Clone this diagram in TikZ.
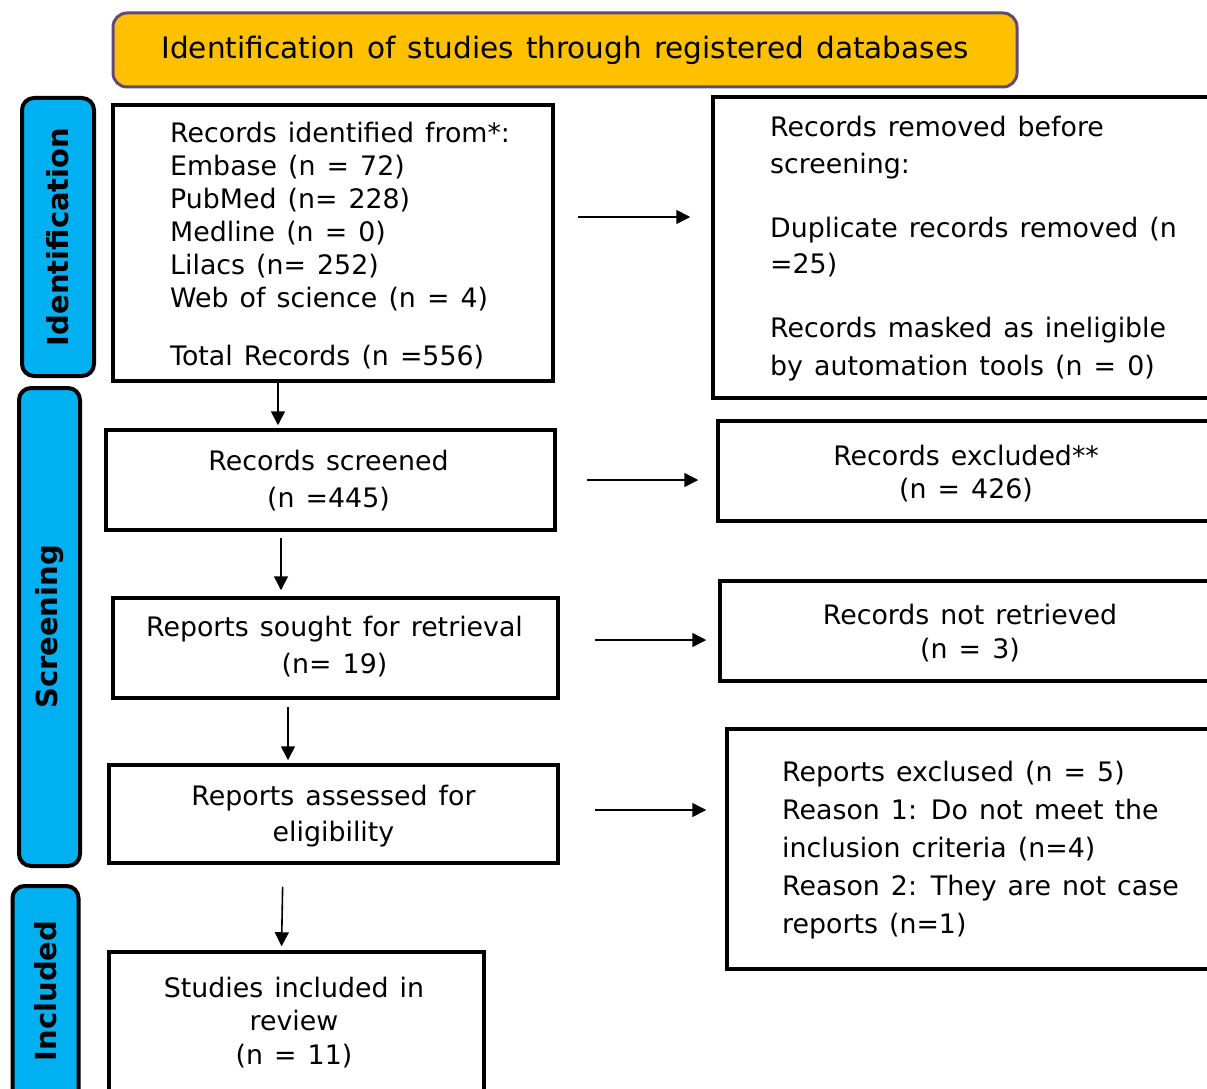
\documentclass[tikz,border=0pt]{standalone}
\usepackage{fontspec}
\setmainfont{DejaVu Sans}[WordSpace=1.3]
\usetikzlibrary{arrows.meta}
\definecolor{bannerfill}{HTML}{FFC000}
\definecolor{bannerline}{HTML}{604A7B}
\definecolor{phasefill}{HTML}{00B0F0}
\newcommand\fstrut{\rule{0pt}{20pt}}
\begin{document}
\begin{tikzpicture}[x=1pt,y=-1pt,
  box/.style={draw=black, line width=3.5pt, fill=white, rectangle, inner sep=0pt},
  phase/.style={draw=black, line width=4pt, fill=phasefill, rounded corners=12pt, rectangle, inner sep=0pt},
  phasetext/.style={rotate=90, font=\fontsize{29}{32}\selectfont\bfseries, inner sep=0pt},
  body/.style={inner sep=0pt, font=\fontsize{26.8}{33}\selectfont},
  arr/.style={line width=1.6pt, -{Triangle[length=14pt,width=14pt]}},
]
\useasboundingbox (0,0) rectangle (1207,1089);
\clip (0,0) rectangle (1207,1089);

% banner
\node[draw=bannerline, line width=3pt, fill=bannerfill, rounded corners=14pt, rectangle,
      minimum width=904pt, minimum height=74pt, inner sep=0pt, font=\fontsize{29.5}{33}\selectfont]
      (banner) at (565,50) {Identification of studies through registered databases};

% phase bars
\node[phase, minimum width=72pt, minimum height=278pt] (idbar) at (58,237) {};
\node[phasetext] (idlabel) at (idbar.center) {Identification};
\node[phase, minimum width=61pt, minimum height=478pt] (scrbar) at (49.5,627) {};
\node[phasetext] (scrlabel) at (scrbar.center) {Screening};
\node[phase, minimum width=66pt, minimum height=224pt] (incbar) at (45.5,998) {};
\node[phasetext] (inclabel) at (45.5,991) {Included};

% boxes
\node[box, minimum width=440pt, minimum height=276pt] (ident) at (333,243) {};
\node[body, anchor=north west, align=left] (identtext) at (170,122)
  {\fstrut Records identified from*:\\ Embase (n = 72)\\ PubMed (n= 228)\\ Medline (n = 0)\\ Lilacs (n= 252)\\ Web of science (n = 4)\\[25pt] Total Records (n =556)};

\node[box, minimum width=517pt, minimum height=301pt] (removed) at (971.5,247.5) {};
\node[body, anchor=north west, align=left] (removedtext) at (770,116)
  {\fstrut Records removed before\\[4pt] screening:\\[31pt] Duplicate records removed (n\\[3pt] =25)\\[31pt] Records masked as ineligible\\[5pt] by automation tools (n = 0)};

\node[box, minimum width=449pt, minimum height=100pt] (screened) at (330.5,480) {};
\node[body, anchor=north, align=center] (screenedtext) at (328.5,450)
  {\fstrut Records screened\\[4pt] (n =445)};

\node[box, minimum width=512pt, minimum height=100pt] (excluded) at (974,471) {};
\node[body, anchor=north, align=center] (excludedtext) at (966,445)
  {\fstrut Records excluded**\\ (n = 426)};

\node[box, minimum width=445pt, minimum height=100pt] (sought) at (335.5,648) {};
\node[body, anchor=north, align=center] (soughttext) at (334.5,616)
  {\fstrut Reports sought for retrieval\\[4pt] (n= 19)};

\node[box, minimum width=510pt, minimum height=100pt] (notretr) at (975,631) {};
\node[body, anchor=north, align=center] (notretrtext) at (970,604)
  {\fstrut Records not retrieved\\[1pt] (n = 3)};

\node[box, minimum width=449pt, minimum height=98pt] (assessed) at (333.5,814) {};
\node[body, anchor=north, align=center] (assessedtext) at (333.5,785)
  {\fstrut Reports assessed for\\[3pt] eligibility};

\node[box, minimum width=503pt, minimum height=240pt] (rexcl) at (978.5,849) {};
\node[body, anchor=north west, align=left] (rexcltext) at (782,761)
  {\fstrut Reports exclused (n = 5)\\[5pt] Reason 1: Do not meet the\\[5pt] inclusion criteria (n=4)\\[5pt] Reason 2: They are not case\\[5pt] reports (n=1)};

\node[box, minimum width=375pt, minimum height=158pt] (included) at (296.5,1031) {};
\node[body, anchor=north, align=center] (includedtext) at (294,977)
  {\fstrut Studies included in\\ review\\[0.5pt] (n = 11)};

% connectors
\draw[arr, shorten <=23pt, shorten >=21pt] ([yshift=26pt]ident.east) -- ([yshift=26pt]ident.east -| removed.west);
\draw[arr, shorten >=3pt] ([xshift=-55pt]ident.south) -- ([xshift=-55pt]ident.south |- screened.north);
\draw[arr, shorten <=30pt, shorten >=18pt] (screened.east) -- (screened.east -| excluded.west);
\draw[arr, shorten <=6pt, shorten >=6pt] ([xshift=-49.5pt]screened.south) -- ([xshift=-49.5pt]screened.south |- sought.north);
\draw[arr, shorten <=35pt, shorten >=12pt] ([yshift=8pt]sought.east) -- ([yshift=8pt]sought.east -| notretr.west);
\draw[arr, shorten <=7pt, shorten >=3pt] ([xshift=-47.5pt]sought.south) -- ([xshift=-47.5pt]sought.south |- assessed.north);
\draw[arr, shorten <=35pt, shorten >=19pt] ([yshift=4pt]assessed.east) -- ([yshift=4pt]assessed.east -| rexcl.west);
\draw[arr, shorten <=22pt, shorten >=4pt] ([xshift=-50.5pt]assessed.south) -- ([xshift=-15pt]included.north);
\end{tikzpicture}
\end{document}
